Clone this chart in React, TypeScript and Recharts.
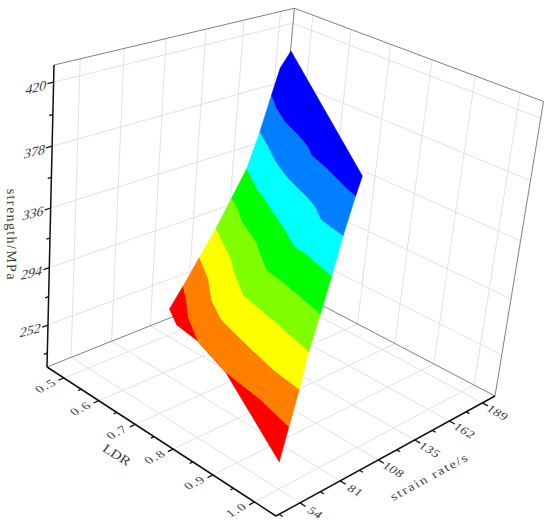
import React from 'react';
import { ScatterChart, Scatter, XAxis, YAxis, Polygon } from 'recharts';

// Data ------------------------------------------------------------------
const ldrMajor = [0.5, 0.6, 0.7, 0.8, 0.9, 1.0];
const ldrMinor = [0.55, 0.65, 0.75, 0.85, 0.95];
const rateMajor = [54, 81, 108, 135, 162, 189];
const rateMinor = [40.5, 67.5, 94.5, 121.5, 148.5, 175.5];
const strengthMajor = [252, 294, 336, 378, 420];
const strengthMinor = [231, 273, 315, 357, 399];
const ldrTickLabels = ['0.5', '0.6', '0.7', '0.8', '0.9', '1.0'];
const rateTickLabels = ['54', '81', '108', '135', '162', '189'];
const strengthTickLabels = ['252', '294', '336', '378', '420'];
const bandColors = ['#ff0000', '#ff7f00', '#ffff00', '#7fff00', '#00ff00', '#00ffff', '#007fff', '#0000ff'];
const levels = [240, 260.5, 281, 301.5, 322, 342.5, 363, 383.5, 404];

const contour0: [number, number][] = [[0.441, 132.9], [0.495, 109.7], [0.551, 101.1], [0.622, 98.3], [0.734, 88.4], [0.999, 53.0], [0.934, 77.5]];
const contour1: [number, number][] = [[0.52, 112.1], [0.565, 103.1], [0.616, 91.7], [0.694, 78.8], [0.746, 74.1], [0.802, 69.3], [0.902, 65.1], [0.994, 58.8]];
const contour2: [number, number][] = [[0.531, 119.6], [0.607, 106.6], [0.672, 92.2], [0.734, 82.6], [0.809, 76.6], [0.916, 68.8], [0.985, 66.1]];
const contour3: [number, number][] = [[0.542, 127.2], [0.603, 117.1], [0.653, 109.0], [0.687, 101.6], [0.767, 87.2], [0.87, 80.5], [0.975, 73.1]];
const contour4: [number, number][] = [[0.549, 135.1], [0.595, 127.9], [0.633, 120.2], [0.716, 108.4], [0.756, 100.3], [0.801, 92.1], [0.872, 87.9], [0.967, 80.9]];
const contour5: [number, number][] = [[0.557, 142.4], [0.634, 128.9], [0.667, 124.4], [0.735, 114.0], [0.778, 107.8], [0.845, 96.8], [0.877, 95.7], [0.91, 92.7], [0.958, 89.0]];
const contour6: [number, number][] = [[0.539, 155.1], [0.601, 144.4], [0.652, 135.0], [0.699, 127.8], [0.725, 124.2], [0.759, 120.4], [0.806, 115.2], [0.837, 110.9], [0.88, 102.7], [0.944, 98.4]];
const contour7: [number, number][] = [[0.518, 167.7], [0.573, 156.3], [0.63, 146.6], [0.689, 139.5], [0.737, 132.7], [0.767, 126.5], [0.823, 120.8], [0.895, 112.1], [0.931, 108.4]];
const contour8: [number, number][] = [[0.531, 168.7], [0.474, 192.8], [0.967, 99.5]];
const contours = [contour0, contour1, contour2, contour3, contour4, contour5, contour6, contour7, contour8];

// Box ranges
const LDR = [0.45, 1.05];
const RATE = [38.5, 199.6];
const Z = [220.4, 431];

// Perspective view of the box, used with the chart's own x/y scales
const O = [47, 367], PU = [276, 516], PV = [270, 278], PW = [54, 65];
const G = [0.877, 1.1376, 0.9137];
function project(ldr: number, rate: number, z: number) {
  const u = (ldr - LDR[0]) / (LDR[1] - LDR[0]);
  const v = (rate - RATE[0]) / (RATE[1] - RATE[0]);
  const w = (z - Z[0]) / (Z[1] - Z[0]);
  const d = 1 + u * (G[0] - 1) + v * (G[1] - 1) + w * (G[2] - 1);
  const f = (i: number) => (O[i] + u * (G[0] * PU[i] - O[i]) + v * (G[1] * PV[i] - O[i]) + w * (G[2] * PW[i] - O[i])) / d;
  return { px: f(0), py: f(1) };
}
const seg = (a: number[], b: number[]) => [project(a[0], a[1], a[2]), project(b[0], b[1], b[2])];

const GRID = '#e2e2e2';
const EDGE = '#808080';
const AXIS = '#111111';
const FONT = '"Liberation Serif", "DejaVu Serif", serif';

const [l0, l1] = LDR, [r0, r1] = RATE, [z0, z1] = Z;
const gridSegs = [
  ...ldrMajor.map(l => seg([l, r0, z0], [l, r1, z0])),
  ...rateMajor.map(r => seg([l0, r, z0], [l1, r, z0])),
  ...rateMajor.map(r => seg([l0, r, z0], [l0, r, z1])),
  ...strengthMajor.map(s => seg([l0, r0, s], [l0, r1, s])),
  ...ldrMajor.map(l => seg([l, r1, z0], [l, r1, z1])),
  ...strengthMajor.map(s => seg([l0, r1, s], [l1, r1, s])),
];
const edgeSegs = [
  seg([l0, r0, z0], [l0, r1, z0]),
  seg([l0, r1, z0], [l1, r1, z0]),
  seg([l0, r1, z0], [l0, r1, z1]),
  seg([l0, r0, z1], [l0, r1, z1]),
  seg([l0, r1, z1], [l1, r1, z1]),
  seg([l1, r1, z0], [l1, r1, z1]),
];
const axisSegs = [
  seg([l0, r0, z0], [l0, r0, z1]),
  seg([l0, r0, z0], [l1, r0, z0]),
  seg([l1, r0, z0], [l1, r1, z0]),
];
const tickSegs = [
  ...strengthMajor.map(s => seg([l0, r0, s], [l0, r0 - 3.6, s])),
  ...strengthMinor.map(s => seg([l0, r0, s], [l0, r0 - 2.2, s])),
  ...ldrMajor.map(l => seg([l, r0, z0], [l, r0 - 3.4, z0])),
  ...ldrMinor.map(l => seg([l, r0, z0], [l, r0 - 2, z0])),
  ...rateMajor.map(r => seg([l1, r, z0], [l1 + 0.013, r, z0])),
  ...rateMinor.map(r => seg([l1, r, z0], [l1 + 0.008, r, z0])),
];
const bands = bandColors.map((color, i) => {
  const low = contours[i].map(p => project(p[0], p[1], levels[i]));
  const high = contours[i + 1].map(p => project(p[0], p[1], levels[i + 1])).reverse();
  return { color, points: [...low, ...high] };
});

type M = [number, number, number, number];
const zMat: M = [1, -0.24, -0.2, 1];
const ldrMat: M = [0.86, -0.46, 0.62, 0.58];
const rateMat: M = [0.84, 0.5, -0.58, 0.62];
const labels = [
  ...strengthMajor.map((s, i) => ({ ...project(l0, r0, s), text: strengthTickLabels[i], dx: -17.5, dy: 5, m: zMat, size: 14, ls: 0 })),
  ...ldrMajor.map((l, i) => ({ ...project(l, r0, z0), text: ldrTickLabels[i], dx: -18, dy: 8, m: ldrMat, size: 14, ls: 1.2 })),
  ...rateMajor.map((r, i) => ({ ...project(l1, r, z0), text: rateTickLabels[i], dx: 15, dy: 10, m: rateMat, size: 14, ls: 0.5 })),
  { ...project(0.75, r0, z0), text: 'LDR', dx: -37, dy: 18, m: [0.86, 0.52, -0.5, 0.7] as M, size: 15, ls: 0 },
  { ...project(l1, 119, z0), text: 'strain rate/s', dx: 36, dy: 25, m: [0.88, -0.48, 0.5, 0.72] as M, size: 14, ls: 1.7 },
  { ...project(l0, r0, 325.7), text: 'strength/MPa', dx: -38.5, dy: 12, m: [0, 1, -1, 0.05] as M, size: 14, ls: 1.4 },
];

const noDot = () => null;

export default function App() {
  return (
    <div style={{ position: 'absolute', left: 0, top: 0 }}>
      <ScatterChart width={550} height={527} margin={{ top: 0, right: 0, bottom: 0, left: 0 }}>
        <XAxis type="number" dataKey="px" domain={[0, 550]} hide allowDataOverflow />
        <YAxis type="number" dataKey="py" domain={[0, 527]} reversed hide allowDataOverflow />
        {gridSegs.map((d, i) => (
          <Scatter key={'g' + i} data={d} isAnimationActive={false} shape={noDot} line={{ stroke: GRID, strokeWidth: 1 }} />
        ))}
        {edgeSegs.map((d, i) => (
          <Scatter key={'e' + i} data={d} isAnimationActive={false} shape={noDot} line={{ stroke: EDGE, strokeWidth: 1 }} />
        ))}
        {bands.map((b, i) => (
          <Scatter
            key={'b' + i}
            data={b.points}
            isAnimationActive={false}
            shape={noDot}
            line={(p: any) => <Polygon points={p.points} fill={b.color} stroke={b.color} strokeWidth={0.5} />}
          />
        ))}
        {axisSegs.map((d, i) => (
          <Scatter key={'a' + i} data={d} isAnimationActive={false} shape={noDot} line={{ stroke: AXIS, strokeWidth: 1.5 }} />
        ))}
        {tickSegs.map((d, i) => (
          <Scatter key={'t' + i} data={d} isAnimationActive={false} shape={noDot} line={{ stroke: AXIS, strokeWidth: 1.3 }} />
        ))}
        <Scatter
          data={labels}
          isAnimationActive={false}
          shape={(p: any) => {
            const l = p.payload;
            const [a, b, c, d] = l.m;
            return (
              <text
                transform={`matrix(${a} ${b} ${c} ${d} ${p.cx + l.dx} ${p.cy + l.dy})`}
                textAnchor="middle"
                dominantBaseline="central"
                fontFamily={FONT}
                fontSize={l.size}
                letterSpacing={l.ls}
                fill="#3c3c3c"
              >
                {l.text}
              </text>
            );
          }}
        />
      </ScatterChart>
    </div>
  );
}
